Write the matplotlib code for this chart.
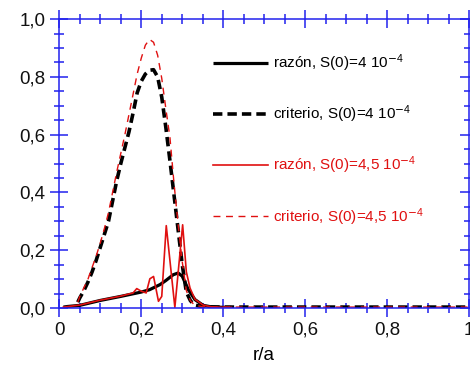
import matplotlib
matplotlib.use("Agg")
import matplotlib.pyplot as plt
from matplotlib.ticker import MultipleLocator, FuncFormatter

plt.rcParams['font.family'] = ['Liberation Sans', 'DejaVu Sans']
plt.rcParams['mathtext.default'] = 'regular'

# criterio, S(0)=4e-4 (black dashed)
x_crit4 = [0.045, 0.05, 0.06, 0.07, 0.08, 0.09, 0.10, 0.11, 0.12, 0.13, 0.14, 0.15, 0.16, 0.17,
           0.18, 0.19, 0.20, 0.21, 0.22, 0.23, 0.24, 0.25, 0.26, 0.27, 0.28, 0.29, 0.30, 0.31,
           0.32, 0.33, 0.35, 0.40, 0.50, 0.60, 0.70, 0.80, 0.90, 1.00]
y_crit4 = [0.02, 0.035, 0.06, 0.09, 0.125, 0.165, 0.21, 0.255, 0.30, 0.37, 0.44, 0.50, 0.555, 0.61,
           0.675, 0.745, 0.785, 0.81, 0.823, 0.825, 0.80, 0.73, 0.625, 0.51, 0.39, 0.27, 0.15, 0.055,
           0.025, 0.01, 0.004, 0.003, 0.003, 0.003, 0.003, 0.003, 0.003, 0.003]

# criterio, S(0)=4.5e-4 (red dashed)
x_crit45 = [0.045, 0.05, 0.06, 0.07, 0.08, 0.09, 0.10, 0.11, 0.12, 0.13, 0.14, 0.15, 0.16, 0.17,
            0.18, 0.19, 0.20, 0.21, 0.22, 0.23, 0.24, 0.25, 0.26, 0.27, 0.28, 0.29, 0.30, 0.31,
            0.32, 0.33, 0.35, 0.40, 0.50, 0.60, 0.70, 0.80, 0.90, 1.00]
y_crit45 = [0.02, 0.04, 0.07, 0.10, 0.14, 0.18, 0.225, 0.275, 0.33, 0.40, 0.47, 0.535, 0.60, 0.67,
            0.74, 0.81, 0.865, 0.91, 0.93, 0.92, 0.875, 0.795, 0.69, 0.59, 0.43, 0.29, 0.16, 0.06,
            0.025, 0.01, 0.004, 0.003, 0.003, 0.003, 0.003, 0.003, 0.003, 0.003]

# razon, S(0)=4e-4 (black solid)
x_raz4 = [0.01, 0.02, 0.05, 0.10, 0.15, 0.20, 0.22, 0.246, 0.26, 0.278, 0.29, 0.30, 0.315,
          0.331, 0.351, 0.37, 0.40, 0.42]
y_raz4 = [0.003, 0.005, 0.009, 0.026, 0.040, 0.055, 0.063, 0.081, 0.095, 0.115, 0.121, 0.11, 0.063,
          0.029, 0.009, 0.004, 0.002, 0.002]

# razon, S(0)=4.5e-4 (red solid)
x_raz45 = [0.01, 0.05, 0.10, 0.15, 0.18, 0.189, 0.20, 0.212, 0.221, 0.23, 0.242, 0.25, 0.261,
           0.282, 0.301, 0.31, 0.319, 0.331, 0.351, 0.37, 0.40, 0.42]
y_raz45 = [0.003, 0.01, 0.027, 0.041, 0.052, 0.067, 0.058, 0.052, 0.101, 0.109, 0.023, 0.04, 0.285,
           0.002, 0.288, 0.125, 0.069, 0.03, 0.01, 0.004, 0.002, 0.002]

labels = [r'razón, S(0)=4 10$^{\mathrm{-}4}$', r'criterio, S(0)=4 10$^{\mathrm{-}4}$',
          r'razón, S(0)=4,5 10$^{\mathrm{-}4}$', r'criterio, S(0)=4,5 10$^{\mathrm{-}4}$']

fig = plt.figure(figsize=(4.7, 3.76), dpi=100)
ax = fig.add_axes([0.1262, 0.181, 0.8718, 0.768])

l1, = ax.plot(x_raz4, y_raz4, color='black', lw=2.3, solid_capstyle='butt')
l2, = ax.plot(x_crit4, y_crit4, color='black', lw=2.6, dashes=(2.6, 1.4))
l3, = ax.plot(x_raz45, y_raz45, color='#e01010', lw=1.2)
l4, = ax.plot(x_crit45, y_crit45, color='#e01010', lw=1.0, dashes=(5, 4))

ax.set_xlim(0, 1)
ax.set_ylim(0, 1)
ax.xaxis.set_major_locator(MultipleLocator(0.2))
ax.xaxis.set_minor_locator(MultipleLocator(0.05))
ax.yaxis.set_major_locator(MultipleLocator(0.2))
ax.yaxis.set_minor_locator(MultipleLocator(0.05))

def fx(v, p):
    s = '%.1f' % v
    if s == '0.0':
        return '0'
    if s == '1.0':
        return '1'
    return s.replace('.', ',')

def fy(v, p):
    return ('%.1f' % v).replace('.', ',')

ax.xaxis.set_major_formatter(FuncFormatter(fx))
ax.yaxis.set_major_formatter(FuncFormatter(fy))

blue = '#2222ee'
for sp in ax.spines.values():
    sp.set_color(blue)
    sp.set_linewidth(1.1)
ax.tick_params(which='both', direction='inout', color=blue, width=1.1,
               top=True, right=True, labelsize=13.5, labelcolor='#111111')
ax.tick_params(which='major', length=13)
ax.tick_params(which='minor', length=6.5)

ax.set_xlabel('r/a', fontsize=13.5, labelpad=6)

leg = ax.legend([l1, l2, l3, l4], labels, loc='upper left', bbox_to_anchor=(0.36, 0.905),
                frameon=False, fontsize=11, labelspacing=1.93, handlelength=3.6,
                handletextpad=0.3, borderaxespad=0,
                labelcolor=['black', 'black', '#e01010', '#e01010'])

fig.savefig('out.png', dpi=100)
